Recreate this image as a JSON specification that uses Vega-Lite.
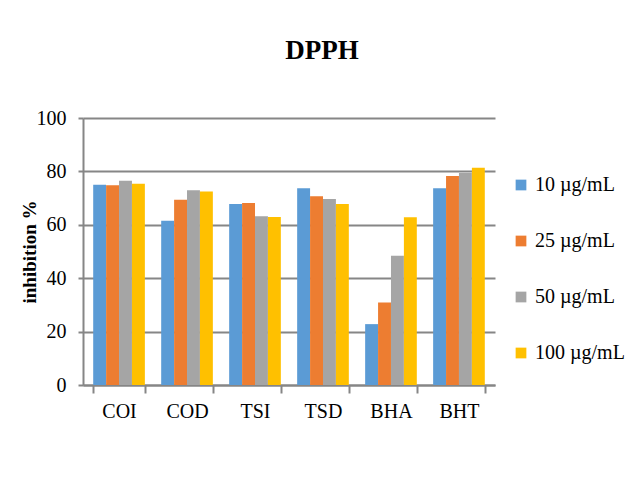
{
  "$schema": "https://vega.github.io/schema/vega-lite/v6.json",
  "autosize": {"type": "none"},
  "width": 412,
  "height": 267,
  "padding": {"left": 83, "top": 118, "right": 130, "bottom": 97},
  "background": "white",
  "title": {
    "text": "DPPH",
    "font": "Liberation Serif",
    "fontSize": 27,
    "fontWeight": "bold",
    "color": "#000000",
    "anchor": "middle",
    "frame": "group",
    "dx": 33,
    "offset": 43
  },
  "data": {
    "values": [
      {"sample": "COI", "conc": "10 µg/mL", "value": 75.0},
      {"sample": "COI", "conc": "25 µg/mL", "value": 74.8},
      {"sample": "COI", "conc": "50 µg/mL", "value": 76.5},
      {"sample": "COI", "conc": "100 µg/mL", "value": 75.4},
      {"sample": "COD", "conc": "10 µg/mL", "value": 61.5},
      {"sample": "COD", "conc": "25 µg/mL", "value": 69.4},
      {"sample": "COD", "conc": "50 µg/mL", "value": 72.9},
      {"sample": "COD", "conc": "100 µg/mL", "value": 72.5},
      {"sample": "TSI", "conc": "10 µg/mL", "value": 67.8},
      {"sample": "TSI", "conc": "25 µg/mL", "value": 68.2},
      {"sample": "TSI", "conc": "50 µg/mL", "value": 63.2},
      {"sample": "TSI", "conc": "100 µg/mL", "value": 62.9},
      {"sample": "TSD", "conc": "10 µg/mL", "value": 73.7},
      {"sample": "TSD", "conc": "25 µg/mL", "value": 70.7},
      {"sample": "TSD", "conc": "50 µg/mL", "value": 69.7},
      {"sample": "TSD", "conc": "100 µg/mL", "value": 67.8},
      {"sample": "BHA", "conc": "10 µg/mL", "value": 22.8},
      {"sample": "BHA", "conc": "25 µg/mL", "value": 30.9},
      {"sample": "BHA", "conc": "50 µg/mL", "value": 48.4},
      {"sample": "BHA", "conc": "100 µg/mL", "value": 62.8},
      {"sample": "BHT", "conc": "10 µg/mL", "value": 73.7},
      {"sample": "BHT", "conc": "25 µg/mL", "value": 78.3},
      {"sample": "BHT", "conc": "50 µg/mL", "value": 79.4},
      {"sample": "BHT", "conc": "100 µg/mL", "value": 81.4}
    ]
  },
  "mark": {"type": "bar"},
  "encoding": {
    "x": {
      "field": "sample",
      "type": "nominal",
      "sort": ["COI", "COD", "TSI", "TSD", "BHA", "BHT"],
      "scale": {"paddingInner": 0.24, "paddingOuter": 0.15},
      "axis": {
        "title": null,
        "labelAngle": 0,
        "labelFont": "Liberation Serif",
        "labelFontSize": 20,
        "labelColor": "#000000",
        "labelPadding": 8,
        "domainColor": "#868686",
        "domainWidth": 2,
        "tickColor": "#868686",
        "tickWidth": 2,
        "tickSize": 8,
        "tickBand": "extent",
        "grid": false
      }
    },
    "xOffset": {
      "field": "conc",
      "type": "nominal",
      "sort": ["10 µg/mL", "25 µg/mL", "50 µg/mL", "100 µg/mL"],
      "scale": {"paddingInner": 0, "paddingOuter": 0}
    },
    "y": {
      "field": "value",
      "type": "quantitative",
      "scale": {"domain": [0, 100]},
      "axis": {
        "title": "inhibition %",
        "titleFont": "Liberation Serif",
        "titleFontSize": 19,
        "titleFontWeight": "bold",
        "titleColor": "#000000",
        "titlePadding": -3,
        "values": [0, 20, 40, 60, 80, 100],
        "labelFont": "Liberation Serif",
        "labelFontSize": 20,
        "labelColor": "#000000",
        "labelPadding": 12,
        "tickSize": 5,
        "tickColor": "#868686",
        "tickWidth": 2,
        "domainColor": "#868686",
        "domainWidth": 2,
        "gridColor": "#868686",
        "gridWidth": 2
      }
    },
    "color": {
      "field": "conc",
      "type": "nominal",
      "sort": ["10 µg/mL", "25 µg/mL", "50 µg/mL", "100 µg/mL"],
      "scale": {
        "domain": ["10 µg/mL", "25 µg/mL", "50 µg/mL", "100 µg/mL"],
        "range": ["#5B9BD5", "#ED7D31", "#A5A5A5", "#FFC000"]
      },
      "legend": {
        "title": null,
        "orient": "none",
        "legendX": 428,
        "legendY": 57,
        "symbolType": "square",
        "symbolSize": 115,
        "symbolStrokeWidth": 0,
        "labelFont": "Liberation Serif",
        "labelFontSize": 20,
        "labelColor": "#000000",
        "labelOffset": 4,
        "labelLimit": 200,
        "rowPadding": 36
      }
    }
  },
  "config": {
    "view": {"stroke": null}
  }
}
